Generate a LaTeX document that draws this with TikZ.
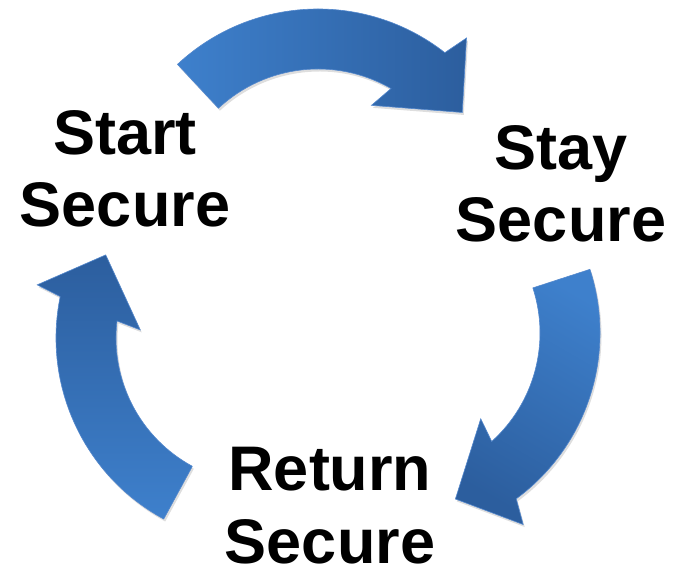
\documentclass[tikz,border=0pt]{standalone}
\usepackage{fontspec}
\setmainfont{Liberation Sans}
\definecolor{arrowlight}{RGB}{62,128,204}
\definecolor{arrowdark}{RGB}{44,94,158}
\definecolor{arrowedge}{RGB}{84,136,205}
% #1 style, #2 #3 centre, #4 tail angle, #5 outer join, #6 inner join,
% #7 outer barb, #8 inner barb, #9 tip
\newcommand\cycarrow[9]{%
  \path[#1] ([shift={(#2,#3)}]#4:206) arc[start angle=#4, end angle=#5, radius=206]
    -- ([shift={(#2,#3)}]#7:231)
    -- ([shift={(#2,#3)}]#9:177)
    -- ([shift={(#2,#3)}]#8:122)
    -- ([shift={(#2,#3)}]#6:146)
    arc[start angle=#6, end angle=#4, radius=146] -- cycle;}
\tikzset{
  label/.style={font=\bfseries\fontsize{63}{72}\selectfont, align=center, inner sep=0pt, text=black},
  arrowshadow/.style={fill=black, opacity=0.13, xshift=1.5, yshift=-2.5},
  arrowbody/.style={draw=arrowedge, line width=0.6, line join=miter}
}
\begin{document}
\begin{tikzpicture}[x=1pt,y=1pt]
\useasboundingbox (0,0) rectangle (677,577);
% top arrow: Start -> Stay
\cycarrow{arrowshadow}{318}{362}{133}{52}{60}{50}{64}{35.4}
\cycarrow{arrowbody, left color=arrowlight, right color=arrowdark}{318}{362}{133}{52}{60}{50}{64}{35.4}
% right arrow: Stay -> Return
\cycarrow{arrowshadow}{394}{244}{18}{-53.6}{-48}{-56}{-44.7}{-69.7}
\cycarrow{arrowbody, top color=arrowlight, bottom color=arrowdark, shading angle=-30}{394}{244}{18}{-53.6}{-48}{-56}{-44.7}{-69.7}
% left arrow: Return -> Start
\cycarrow{arrowshadow}{262}{239}{241.5}{168.4}{173.3}{166.7}{176.2}{152}
\cycarrow{arrowbody, top color=arrowdark, bottom color=arrowlight}{262}{239}{241.5}{168.4}{173.3}{166.7}{176.2}{152}
% labels
\node[label] (start) at (125,408) {Start\\Secure};
\node[label] (stay) at (561,393.5) {Stay\\Secure};
\node[label] (return) at (330,71.5) {Return\\[1pt]Secure};
\end{tikzpicture}
\end{document}
